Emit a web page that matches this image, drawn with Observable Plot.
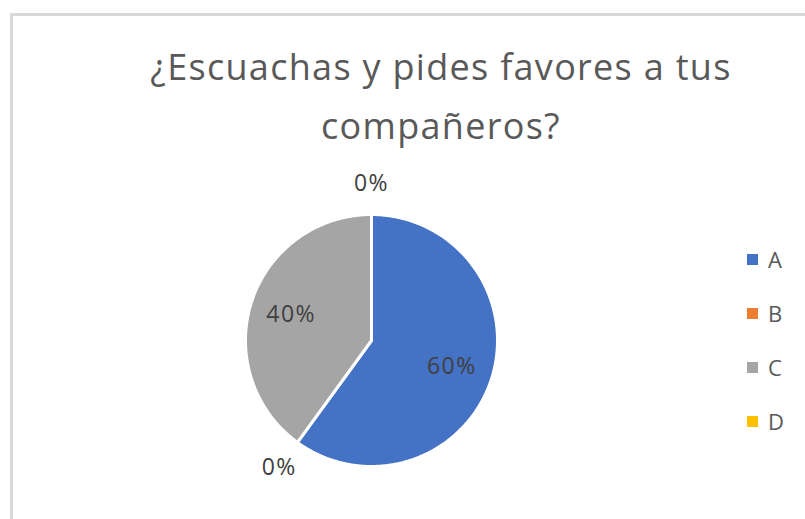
<!DOCTYPE html>
<html>
<head>
<meta charset="utf-8">
<script src="https://cdn.jsdelivr.net/npm/d3@7"></script>
<script src="https://cdn.jsdelivr.net/npm/@observablehq/plot@0.6"></script>
<style>
  html, body { margin: 0; padding: 0; background: #fff; }
  #wrap { position: relative; width: 805px; height: 519px; overflow: hidden; font-family: "Open Sans", sans-serif; }
  #frame { position: absolute; left: 10px; top: 13px; width: 900px; height: 700px; border: 3px solid #D9D9D9; box-sizing: border-box; }
  #title { position: absolute; left: 0; width: 882px; top: 37px; text-align: center; font-size: 36px; letter-spacing: 1.3px; line-height: 59px; color: #595959; }
  #chart { position: absolute; left: 0; top: 0; }
  #chart text { letter-spacing: 1.5px; }
  #legend { position: absolute; left: 747px; top: 232px; }
  #legend, #legend * { font-family: "Open Sans", sans-serif !important; font-size: 22px !important; color: #595959 !important; }
  #legend .lg-swatches { margin: 0 !important; }
  #legend .lg-swatch { height: 54px; padding-bottom: 0 !important; display: flex; align-items: center; }
  #legend .lg-swatch svg { margin-right: 10px !important; }
</style>
</head>
<body>
<div id="wrap">
  <div id="frame"></div>
  <div id="chart"></div>
  <div id="title">¿Escuachas y pides favores a tus<br>compañeros?</div>
  <div id="legend"></div>
</div>
<script>
const categories = ["A", "B", "C", "D"];
const values = [60, 0, 40, 0];
const colors = ["#4472C4", "#ED7D31", "#A5A5A5", "#FFC000"];

const total = d3.sum(values);
const arcs = d3.pie().sort(null).value(d => d)(values);

// slice polygons (unit circle, angle clockwise from top)
const slicePts = [];
arcs.forEach((a, i) => {
  if (a.endAngle - a.startAngle <= 0) return;
  const cat = categories[i];
  slicePts.push({cat, x: 0, y: 0});
  const n = Math.max(2, Math.ceil((a.endAngle - a.startAngle) / (Math.PI / 180)));
  for (let k = 0; k <= n; k++) {
    const t = a.startAngle + (a.endAngle - a.startAngle) * k / n;
    slicePts.push({cat, x: Math.sin(t), y: Math.cos(t)});
  }
  slicePts.push({cat, x: 0, y: 0});
});

// data labels: inside for non-zero slices, outside end for empty slices
const fmt = d3.format(".0%");
const labelPts = arcs.map((a, i) => {
  const mid = (a.startAngle + a.endAngle) / 2;
  const rr = values[i] > 0 ? 0.67 : 1.245;
  return {x: Math.sin(mid) * rr, y: Math.cos(mid) * rr, text: fmt(values[i] / total)};
});

const chart = Plot.plot({
  width: 805,
  height: 519,
  marginLeft: 245,
  marginRight: 308,
  marginTop: 214,
  marginBottom: 53,
  x: {domain: [-1, 1], axis: null},
  y: {domain: [-1, 1], axis: null},
  color: {domain: categories, range: colors},
  style: {background: "transparent", overflow: "visible"},
  marks: [
    Plot.line(slicePts, {x: "x", y: "y", z: "cat", fill: "cat", stroke: "white", strokeWidth: 3, strokeLinejoin: "round"}),
    Plot.text(labelPts, {x: "x", y: "y", text: "text", fill: "#404040", fontSize: 23, fontFamily: "Open Sans"})
  ]
});
document.getElementById("chart").appendChild(chart);

const legend = Plot.legend({
  color: {domain: categories, range: colors},
  legend: "swatches",
  columns: 1,
  swatchSize: 11,
  className: "lg"
});
document.getElementById("legend").appendChild(legend);
</script>
</body>
</html>
